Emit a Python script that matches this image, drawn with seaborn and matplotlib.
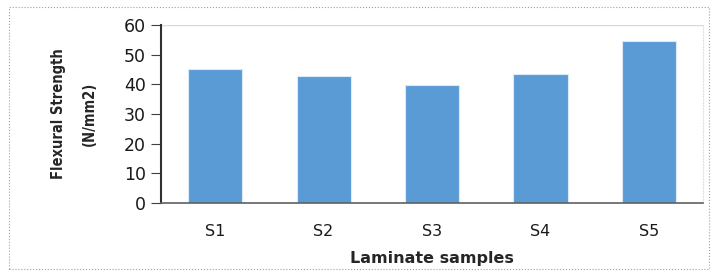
import seaborn as sns
import pandas as pd
import matplotlib.pyplot as plt
from matplotlib.patches import Rectangle

# Data
samples = ['S1', 'S2', 'S3', 'S4', 'S5']
strength = [45.1, 42.9, 39.8, 43.4, 54.5]

df = pd.DataFrame({'Sample': samples, 'Strength': strength})

sns.set_style('white')
plt.rcParams['font.family'] = ['DejaVu Sans']

fig = plt.figure(figsize=(7.19, 2.75), dpi=100)
ax = fig.add_axes([161 / 719, 1 - 203 / 275, 542 / 719, 178 / 275])

sns.barplot(data=df, x='Sample', y='Strength', color='#5B9BD5', saturation=1,
            width=0.5, edgecolor='#dce9f6', linewidth=0.8, ax=ax)

ax.set_ylim(0, 60)
ax.set_yticks(range(0, 61, 10))
ax.axhline(60, color='#d9d9d9', lw=1, zorder=0)
ax.tick_params(axis='y', which='both', left=True, length=7, width=0.8, color='#404040',
               labelsize=12.5, pad=4, labelcolor='#1a1a1a')
ax.tick_params(axis='x', length=0, labelsize=11.5, pad=15, labelcolor='#1a1a1a')

ax.spines['top'].set_visible(False)
ax.spines['right'].set_color('#e0e0e0')
ax.spines['right'].set_linestyle(':')
ax.spines['left'].set_color('#303030')
ax.spines['left'].set_linewidth(1.5)
ax.spines['bottom'].set_color('#606060')
ax.spines['bottom'].set_linewidth(1.2)

ax.set_xlabel('Laminate samples', fontsize=11.5, fontweight='bold', labelpad=9)
ax.set_ylabel('Flexural Strength\n(N/mm2)', fontsize=10.5, fontweight='bold',
              fontstretch='condensed', linespacing=2.3)
ax.yaxis.set_label_coords(-0.118, 0.5)

# dotted frame around the whole figure
fig.patches.append(Rectangle((9 / 719, 6 / 275), 700 / 719, 262 / 275,
                             transform=fig.transFigure, fill=False,
                             edgecolor='#a0a0a0', lw=0.8, ls=':'))

fig.savefig('out.png', dpi=100)
